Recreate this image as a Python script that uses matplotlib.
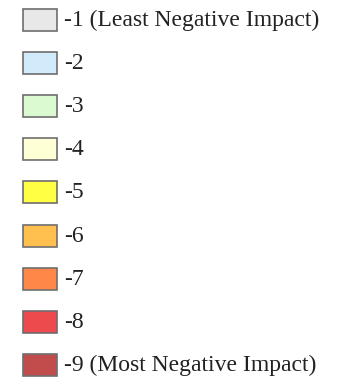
import matplotlib
matplotlib.use("Agg")
import matplotlib.pyplot as plt
from matplotlib.patches import Rectangle

# legend entries
labels = ["-1 (Least Negative Impact)", "-2", "-3", "-4", "-5",
          "-6", "-7", "-8", "-9 (Most Negative Impact)"]
colors = ["#e8e8e8", "#d2ebfa", "#dcfad2", "#ffffd6", "#ffff44",
          "#ffc050", "#ff8848", "#ec4a4c", "#c04c4c"]

fig = plt.figure(figsize=(3.37, 3.8), dpi=100)
ax = fig.add_axes([0, 0, 1, 1])
ax.set_xlim(0, 337)
ax.set_ylim(380, 0)
ax.axis("off")

top = 20
step = 43.1
for i, (lab, col) in enumerate(zip(labels, colors)):
    yc = top + i * step
    ax.add_patch(Rectangle((22.5, yc - 11), 34, 22, facecolor=col,
                           edgecolor="#6e6e6e", linewidth=1.2))
    ax.text(64, yc + 0.5, lab, va="center", ha="left", fontsize=17,
            family="Liberation Serif", color="#222222")

fig.savefig("out.png", dpi=100)
